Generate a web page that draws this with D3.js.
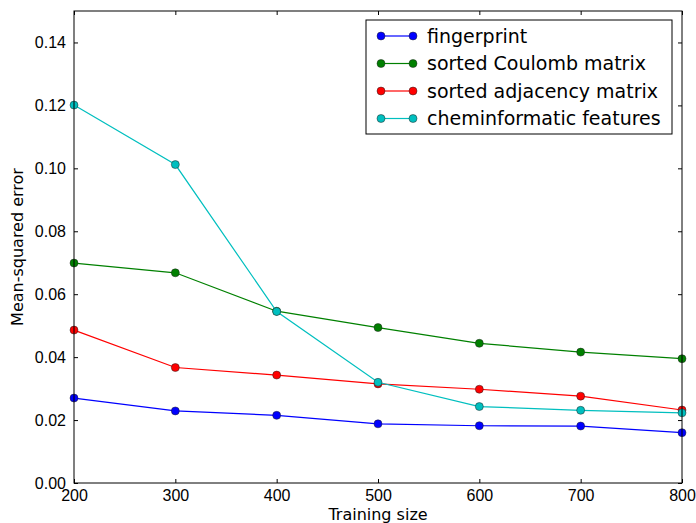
<!DOCTYPE html>
<html>
<head>
<meta charset="utf-8">
<script src="https://cdn.jsdelivr.net/npm/d3@7"></script>
<style>
  body { margin: 0; background: #fff; }
  svg { font-family: "DejaVu Sans", sans-serif; }
</style>
</head>
<body>
<div id="area"></div>
<script>
const sizes = [200, 300, 400, 500, 600, 700, 800];
const fingerprint = [0.0270, 0.0229, 0.0215, 0.0188, 0.0182, 0.0181, 0.0160];
const coulomb = [0.0699, 0.0668, 0.0546, 0.0494, 0.0444, 0.0416, 0.0395];
const adjacency = [0.0486, 0.0367, 0.0343, 0.0315, 0.0298, 0.0276, 0.0232];
const chem = [0.1201, 0.1012, 0.0545, 0.0320, 0.0243, 0.0231, 0.0223];
const seriesNames = ["fingerprint", "sorted Coulomb matrix", "sorted adjacency matrix", "cheminformatic features"];
const seriesColors = ["#0000ff", "#008000", "#ff0000", "#00bfbf"];
const xTicks = [200, 300, 400, 500, 600, 700, 800];
const yTicks = [0, 0.02, 0.04, 0.06, 0.08, 0.10, 0.12, 0.14];

const series = [fingerprint, coulomb, adjacency, chem].map((vals, i) => ({
  name: seriesNames[i],
  color: seriesColors[i],
  values: vals.map((v, j) => ({ x: sizes[j], y: v })),
}));

const width = 696;
const height = 523;
const margin = { top: 11, right: 14, bottom: 40, left: 74 };

const x = d3.scaleLinear().domain([200, 800]).range([margin.left, width - margin.right]);
const y = d3.scaleLinear().domain([0, 0.15]).range([height - margin.bottom, margin.top]);

const svg = d3.select("#area").append("svg")
  .attr("width", width)
  .attr("height", height);

// axes with inward ticks on all four sides
const fmt = d3.format(".2f");
const tickSize = 4;

svg.append("g")
  .attr("transform", `translate(0,${height - margin.bottom})`)
  .call(d3.axisBottom(x).tickValues(xTicks).tickSize(-tickSize).tickPadding(7).tickFormat(d3.format("d")))
  .call(g => g.select(".domain").remove());

svg.append("g")
  .attr("transform", `translate(0,${margin.top})`)
  .call(d3.axisTop(x).tickValues(xTicks).tickSize(-tickSize).tickFormat(""))
  .call(g => g.select(".domain").remove());

svg.append("g")
  .attr("transform", `translate(${margin.left},0)`)
  .call(d3.axisLeft(y).tickValues(yTicks).tickSize(-tickSize).tickPadding(8).tickFormat(fmt))
  .call(g => g.select(".domain").remove());

svg.append("g")
  .attr("transform", `translate(${width - margin.right},0)`)
  .call(d3.axisRight(y).tickValues(yTicks).tickSize(-tickSize).tickFormat(""))
  .call(g => g.select(".domain").remove());

svg.selectAll(".tick text")
  .attr("font-size", 16)
  .attr("fill", "#000");
svg.selectAll(".tick line").attr("stroke", "#000");

// Add the lines and markers
const line = d3.line().x(d => x(d.x)).y(d => y(d.y));

const plot = svg.append("g");
series.forEach(s => {
  plot.append("path")
    .attr("fill", "none")
    .attr("stroke", s.color)
    .attr("stroke-width", 1.2)
    .attr("d", line(s.values));
  plot.selectAll(null)
    .data(s.values)
    .join("circle")
    .attr("cx", d => x(d.x))
    .attr("cy", d => y(d.y))
    .attr("r", 4)
    .attr("fill", s.color)
    .attr("stroke", "#222")
    .attr("stroke-width", 0.5);
});

// frame
svg.append("rect")
  .attr("x", margin.left)
  .attr("y", margin.top)
  .attr("width", width - margin.left - margin.right)
  .attr("height", height - margin.top - margin.bottom)
  .attr("fill", "none")
  .attr("stroke", "#000")
  .attr("stroke-width", 1);

// axis labels
svg.append("text")
  .attr("x", (margin.left + width - margin.right) / 2)
  .attr("y", 520)
  .attr("text-anchor", "middle")
  .attr("font-size", 16)
  .text("Training size");

svg.append("text")
  .attr("transform", `translate(23,${(margin.top + height - margin.bottom) / 2}) rotate(-90)`)
  .attr("text-anchor", "middle")
  .attr("font-size", 16)
  .text("Mean-squared error");

// legend
const legend = svg.append("g").attr("transform", "translate(366,20)");
legend.append("rect")
  .attr("width", 306)
  .attr("height", 114)
  .attr("fill", "#fff")
  .attr("stroke", "#000")
  .attr("stroke-width", 1);

series.forEach((s, i) => {
  const row = legend.append("g").attr("transform", `translate(0,${16 + i * 27.5})`);
  row.append("line")
    .attr("x1", 15).attr("x2", 47)
    .attr("stroke", s.color).attr("stroke-width", 1.2);
  [15, 47].forEach(cx => row.append("circle")
    .attr("cx", cx).attr("r", 4)
    .attr("fill", s.color).attr("stroke", "#222").attr("stroke-width", 0.5));
  row.append("text")
    .attr("x", 61)
    .attr("dy", "0.35em")
    .attr("font-size", 19)
    .text(s.name);
});
</script>
</body>
</html>
